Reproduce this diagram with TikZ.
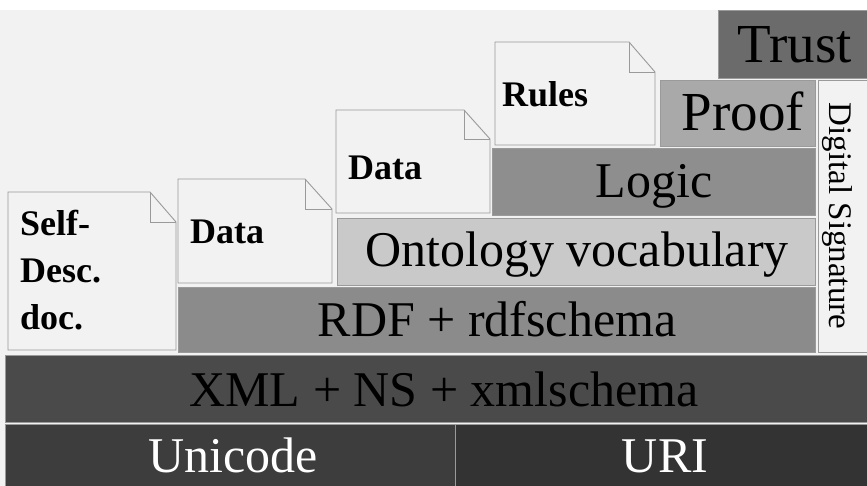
\documentclass[tikz,border=0pt]{standalone}
\usepackage{fontspec}
\setmainfont{Liberation Serif}
\definecolor{bgfill}{HTML}{F2F2F2}
\definecolor{docfill}{HTML}{F2F2F2}
\definecolor{trustc}{HTML}{6B6B6B}
\definecolor{proofc}{HTML}{A9A9A9}
\definecolor{logicc}{HTML}{8E8E8E}
\definecolor{ontoc}{HTML}{C9C9C9}
\definecolor{rdfc}{HTML}{8B8B8B}
\definecolor{xmlc}{HTML}{4A4A4A}
\definecolor{unic}{HTML}{3D3D3D}
\definecolor{uric}{HTML}{333333}
\definecolor{edgec}{HTML}{9A9A9A}
\begin{document}
\begin{tikzpicture}[x=1pt,y=-1pt,
  layerbox/.style={draw=edgec, line width=0.9pt},
  biglabel/.style={inner sep=0pt, text height=34pt, text depth=0pt, font=\fontsize{50}{50}\selectfont},
  toplabel/.style={inner sep=0pt, text height=37pt, text depth=0pt, font=\fontsize{55}{55}\selectfont},
  docshape/.style={draw=edgec, fill=docfill, line width=0.9pt, line join=miter},
  docfold/.style={draw=edgec, line width=0.9pt},
  doclabel/.style={inner sep=0pt, anchor=west, align=left, font=\bfseries\fontsize{36}{47}\selectfont}]
\useasboundingbox (0,0) rectangle (867,486);
\fill[white] (0,0) rectangle (867,486);
\fill[bgfill] (0,10) rectangle (867,486);

% layers
\path[layerbox, fill=trustc] (718,10) rectangle (867,78);
\node[toplabel] (trust) at (795,44) {Trust};
\path[layerbox, fill=proofc] (660,80) rectangle (815,146);
\node[toplabel] (proof) at (743,112) {Proof};
\path[layerbox, fill=logicc] (492,148) rectangle (815,215);
\node[biglabel] (logic) at (654,181) {Logic};
\path[layerbox, fill=ontoc] (337,218) rectangle (815,285);
\node[biglabel] (onto) at (577,250) {Ontology vocabulary};
\path[layerbox, fill=rdfc] (178,287) rectangle (815,352);
\node[biglabel] (rdf) at (497,319) {RDF + rdfschema};
\path[layerbox, fill=bgfill] (818,80) rectangle (867,352);
\node[inner sep=0pt, text height=22pt, text depth=0pt, rotate=-90, font=\fontsize{33}{33}\selectfont] (dsig) at (840,216) {Digital Signature};
\path[layerbox, fill=xmlc] (5,355) rectangle (867,422);
\node[biglabel] (xml) at (444,389) {XML + NS + xmlschema};
\path[layerbox, fill=unic] (5,424) rectangle (455,486);
\node[biglabel, text=white] (unicode) at (233,455) {Unicode};
\path[layerbox, fill=uric] (455,424) rectangle (867,486);
\node[biglabel, text=white] (uri) at (665,455) {URI};

% documents
\draw[docshape] (8,192) -- (150,192) -- (176,222) -- (176,350) -- (8,350) -- cycle;
\draw[docfold] (150,192) -- (150,222) -- (176,222);
\node[doclabel] (selfdesc) at (20,270) {Self-\\Desc.\\doc.};

\draw[docshape] (178,179) -- (305,179) -- (332,209) -- (332,283) -- (178,283) -- cycle;
\draw[docfold] (305,179) -- (305,209) -- (332,209);
\node[doclabel, text height=24pt, text depth=0pt] (data1) at (190,232) {Data};

\draw[docshape] (336,110) -- (464,110) -- (490,139) -- (490,213) -- (336,213) -- cycle;
\draw[docfold] (464,110) -- (464,139) -- (490,139);
\node[doclabel, text height=24pt, text depth=0pt] (data2) at (348,168) {Data};

\draw[docshape] (495,42) -- (629,42) -- (655,72) -- (655,145) -- (495,145) -- cycle;
\draw[docfold] (629,42) -- (629,72) -- (655,72);
\node[doclabel, text height=24pt, text depth=0pt] (rules) at (502,95) {Rules};
\end{tikzpicture}
\end{document}
